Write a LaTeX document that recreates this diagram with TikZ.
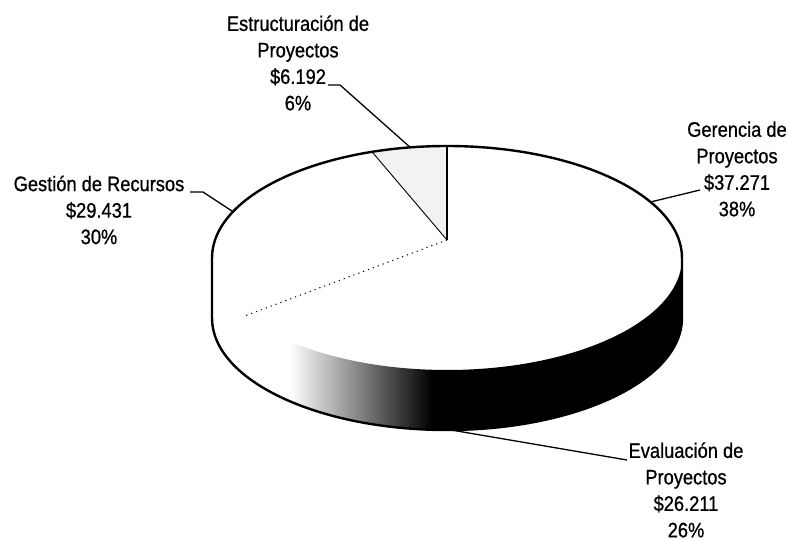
\documentclass[tikz,border=0pt]{standalone}
\usepackage{fontspec}
\setmainfont{Liberation Sans}[FakeStretch=0.87, FakeBold=0.8]
\usetikzlibrary{calc}

\begin{document}
\begin{tikzpicture}[
    x=1pt, y=1pt,
    % Styles
    pieline/.style={ % Outline of the pie
        line width=2.4pt,
        line join=round
    },
    cutline/.style={ % Boundary between slices
        line width=0.9pt
    },
    dotline/.style={ % Faint boundary on the top face
        line width=1pt,
        dash pattern=on 1.2pt off 4pt
    },
    leader/.style={ % Line from a slice to its text
        line width=1.3pt,
        line join=round
    },
    slicetext/.style={ % Text of a slice
        align=center,
        inner sep=0pt,
        font=\fontsize{21}{26.5}\selectfont
    }
]
    \useasboundingbox (0,0) rectangle (789,541);

    % Pie geometry
    \coordinate (c) at (447,283); % centre of the top face
    \coordinate (b) at (447,223); % centre of the bottom face
    \coordinate (o) at (447,301); % apex of the slices
    \coordinate (top) at ($(c)+(90:235 and 112)$);
    \coordinate (estRim) at ($(c)+(108.6:235 and 112)$);
    \coordinate (gesRim) at ($(c)+(211:235 and 112)$);

    % Side of the pie, dark towards the right
    \begin{scope}
        \clip ($(c)+(180:235 and 112)$) arc[start angle=180, end angle=360, x radius=235, y radius=112]
            -- ($(b)+(0:235 and 112)$) arc[start angle=0, end angle=-180, x radius=235, y radius=112] -- cycle;
        \shade[left color=white, right color=black] (290,90) rectangle (432,300);
        \fill[black] (431,90) rectangle (700,300);
    \end{scope}

    % Small slice
    \fill[gray!10] (o) -- (estRim) arc[start angle=108.6, end angle=90, x radius=235, y radius=112] -- cycle;

    % Slice boundaries
    \draw[pieline] (o) -- (top);
    \draw[cutline] (o) -- (estRim);
    \draw[dotline] (o) -- (gesRim);

    % Outline
    \draw[pieline] ($(c)+(0:235 and 112)$) arc[start angle=0, end angle=180, x radius=235, y radius=112]
        -- ($(b)+(180:235 and 112)$) arc[start angle=180, end angle=360, x radius=235, y radius=112] -- cycle;

    % Texts
    \node[slicetext] (ger) at (737,372) {Gerencia de\\Proyectos\\\$37.271\\38\%};
    \node[slicetext] (eva) at (686,51) {Evaluación de\\Proyectos\\\$26.211\\26\%};
    \node[slicetext] (ges) at (99,331) {Gestión de Recursos\\\$29.431\\30\%};
    \node[slicetext] (est) at (298,478) {Estructuración de\\Proyectos\\\$6.192\\6\%};

    % Leader lines
    \coordinate (gerIn) at ($(c)+(30:235 and 112)$);
    \coordinate (gerOut) at (700,351);
    \draw[leader] (gerIn) -- (gerOut);

    \coordinate (evaIn) at ($(b)+(271:235 and 112)$);
    \coordinate (evaOut) at (627,81);
    \draw[leader] (evaIn) -- (evaOut);

    \coordinate (gesIn) at ($(c)+(155.6:235 and 112)$);
    \coordinate (gesBend) at (203,349);
    \coordinate (gesOut) at (190,349);
    \draw[leader] (gesIn) -- (gesBend) -- (gesOut);

    \coordinate (estIn) at ($(c)+(99:235 and 112)$);
    \coordinate (estBend) at (340,456);
    \coordinate (estOut) at (328,456);
    \draw[leader] (estIn) -- (estBend) -- (estOut);
\end{tikzpicture}
\end{document}
